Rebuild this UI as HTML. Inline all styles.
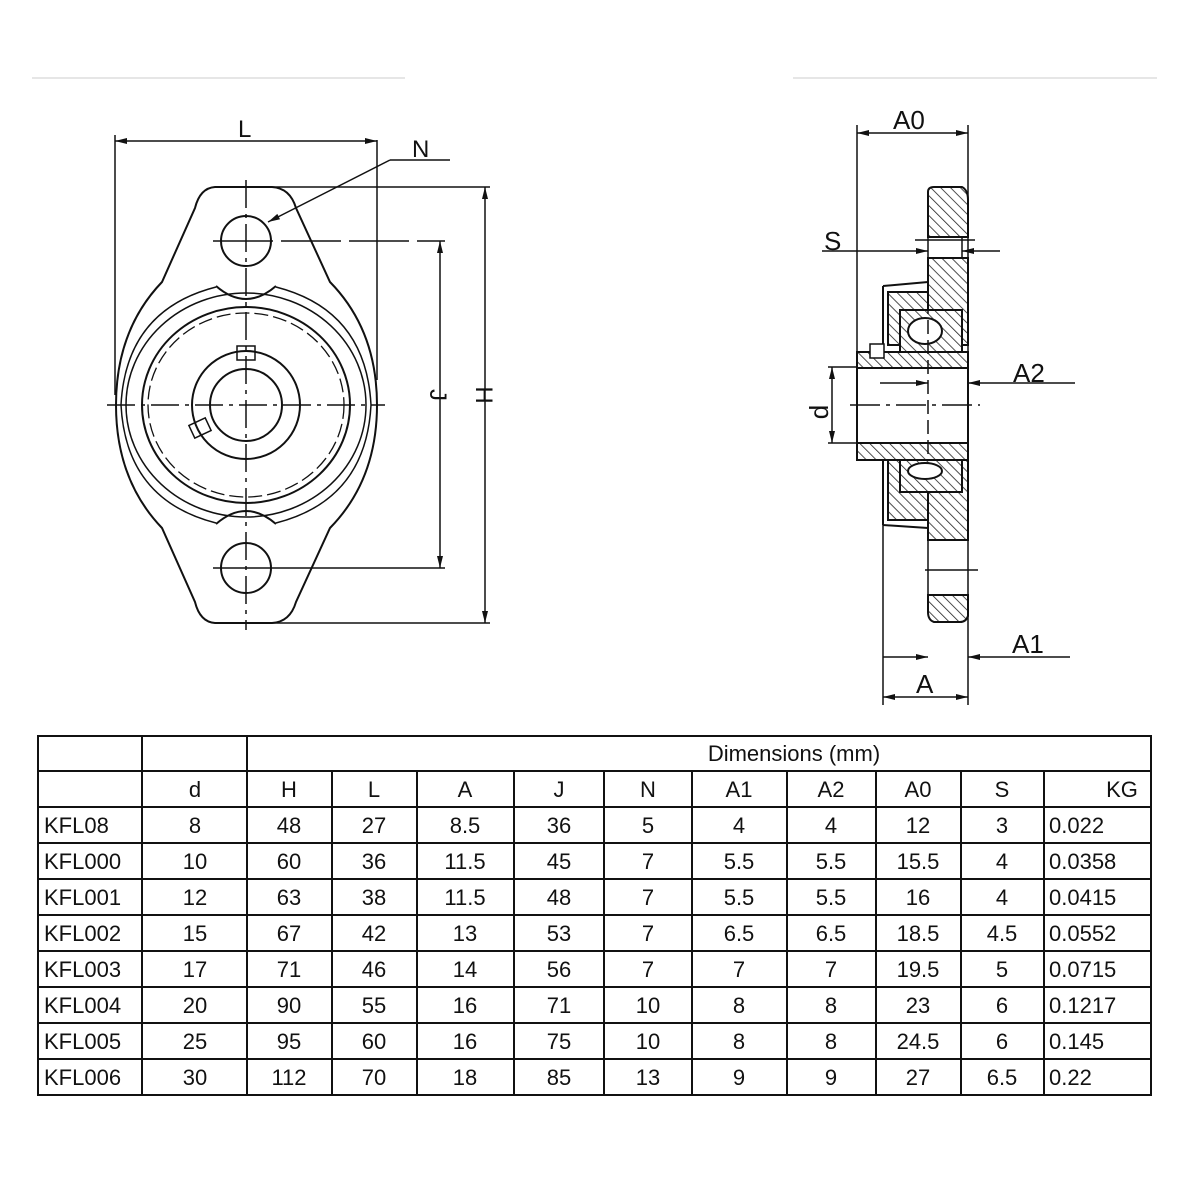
<!DOCTYPE html>
<html><head><meta charset="utf-8"><style>
html,body{margin:0;padding:0;background:#fff;}
svg{display:block;}
text{font-family:"Liberation Sans",sans-serif;fill:#111;}
</style></head><body>
<svg width="1200" height="1200" viewBox="0 0 1200 1200" xmlns="http://www.w3.org/2000/svg">
<defs>
<pattern id="h" width="7" height="7" patternUnits="userSpaceOnUse" patternTransform="rotate(-45)">
<rect width="7" height="7" fill="#fff"/><line x1="0" y1="0" x2="0" y2="7" stroke="#222" stroke-width="1.6"/></pattern>
<marker id="a" markerWidth="12" markerHeight="8" refX="12" refY="4" orient="auto-start-reverse" markerUnits="userSpaceOnUse"><path d="M0,1 L12,4 L0,7 Z" fill="#111"/></marker>
</defs>
<line x1="32" y1="78" x2="405" y2="78" stroke="#ddd" stroke-width="1.5"/>
<line x1="793" y1="78" x2="1157" y2="78" stroke="#ddd" stroke-width="1.5"/>

<g stroke="#111" stroke-width="2" fill="none">
<!-- front view -->
<path d="M215,187 L272,187 Q290,188 296,208 L330,282 Q377,330 377,405 Q377,480 330,528 L296,602 Q290,622 272,623 L215,623 Q200,622 195,602 L162,528 Q116,480 116,405 Q116,330 162,282 L195,208 Q200,188 215,187 Z"/>
<path d="M216,286 Q246,312 276,286"/>
<path d="M216,524 Q246,498 276,524"/>
<path d="M216,287 Q126,310 121,405 Q126,500 216,523" stroke-width="1.5"/>
<path d="M276,287 Q366,310 371,405 Q366,500 276,523" stroke-width="1.5"/>
<ellipse cx="246" cy="405" rx="120" ry="112" stroke-width="1.5"/>
<ellipse cx="246" cy="405" rx="104" ry="98"/>
<ellipse cx="246" cy="405" rx="98" ry="92" stroke-dasharray="14 5" stroke-width="1.3"/>
<circle cx="246" cy="405" r="54"/>
<circle cx="246" cy="405" r="36"/>
<rect x="237" y="346" width="18" height="14" stroke-width="1.5"/>
<rect x="191" y="421" width="18" height="14" transform="rotate(-25 200 428)" stroke-width="1.5"/>
<circle cx="246" cy="241" r="25"/>
<circle cx="246" cy="568" r="25"/>
<g stroke-width="1.5" stroke-dasharray="28 6 4 6">
<line x1="246" y1="180" x2="246" y2="630"/>
<line x1="107" y1="405" x2="385" y2="405"/>
</g>
<line x1="213" y1="241" x2="445" y2="241" stroke-width="1.5" stroke-dasharray="60 8"/>
<line x1="213" y1="568" x2="445" y2="568" stroke-width="1.5"/>
<line x1="272" y1="187" x2="490" y2="187" stroke-width="1.5"/>
<line x1="272" y1="623" x2="490" y2="623" stroke-width="1.5"/>
<line x1="115" y1="135" x2="115" y2="395" stroke-width="1.5"/>
<line x1="377" y1="140" x2="377" y2="380" stroke-width="1.5"/>
<line x1="115" y1="141" x2="377" y2="141" stroke-width="1.5" marker-start="url(#a)" marker-end="url(#a)"/>
<line x1="440" y1="241" x2="440" y2="568" stroke-width="1.5" marker-start="url(#a)" marker-end="url(#a)"/>
<line x1="485" y1="187" x2="485" y2="623" stroke-width="1.5" marker-start="url(#a)" marker-end="url(#a)"/>
<line x1="450" y1="160" x2="390" y2="160" stroke-width="1.5"/>
<line x1="390" y1="160" x2="268" y2="222" stroke-width="1.5" marker-end="url(#a)"/>
</g>
<text x="238" y="137" font-size="24">L</text>
<text x="412" y="157" font-size="24">N</text>
<text x="420" y="405" font-size="24" transform="rotate(90 430 405)" text-anchor="middle">J</text>
<text x="466" y="405" font-size="24" transform="rotate(90 476 405)" text-anchor="middle">H</text>

<!-- side view -->
<g stroke="#111" stroke-width="2">
<path d="M928,192 Q928,187 934,187 L962,187 Q968,190 968,200 L968,237 L928,237 Z" fill="url(#h)"/>
<path d="M928,258 L968,258 L968,345 L928,345 Z" fill="url(#h)"/>
<path d="M888,292 L928,292 L928,345 L888,345 Z" fill="url(#h)"/>
<path d="M883,286 L928,282" fill="none"/>
<path d="M883,286 L883,525 M883,525 L928,528" fill="none"/>
<path d="M928,460 L968,460 L968,540 L928,540 Z" fill="url(#h)"/>
<path d="M888,460 L928,460 L928,520 L888,520 Z" fill="url(#h)"/>
<path d="M928,595 L968,595 L968,616 Q966,622 960,622 L934,622 Q928,620 928,612 Z" fill="url(#h)"/>
<rect x="900" y="310" width="62" height="42" fill="url(#h)"/>
<rect x="900" y="460" width="62" height="32" fill="url(#h)"/>
<ellipse cx="925" cy="331" rx="17" ry="13" fill="#fff"/>
<ellipse cx="925" cy="471" rx="17" ry="8" fill="#fff"/>
<rect x="857" y="352" width="111" height="16" fill="url(#h)"/>
<rect x="857" y="443" width="111" height="17" fill="url(#h)"/>
<rect x="857" y="368" width="111" height="75" fill="#fff"/>
<rect x="870" y="344" width="14" height="14" fill="#fff" stroke-width="1.5"/>
</g>
<g stroke="#111" stroke-width="1.5" fill="none">
<line x1="857" y1="125" x2="857" y2="352"/>
<line x1="968" y1="125" x2="968" y2="705"/>
<line x1="883" y1="525" x2="883" y2="705"/>
<line x1="928" y1="237" x2="928" y2="258"/>
<line x1="962" y1="237" x2="962" y2="258"/>
<line x1="928" y1="540" x2="928" y2="595"/>
<line x1="857" y1="133" x2="968" y2="133" marker-start="url(#a)" marker-end="url(#a)"/>
<line x1="883" y1="697" x2="968" y2="697" marker-start="url(#a)" marker-end="url(#a)"/>
<line x1="822" y1="251" x2="928" y2="251" marker-end="url(#a)"/>
<line x1="1000" y1="251" x2="962" y2="251" marker-end="url(#a)"/>
<line x1="915" y1="240" x2="975" y2="240"/>
<line x1="880" y1="383" x2="928" y2="383" marker-end="url(#a)"/>
<line x1="1075" y1="383" x2="968" y2="383" marker-end="url(#a)"/>
<line x1="883" y1="657" x2="928" y2="657" marker-end="url(#a)"/>
<line x1="1070" y1="657" x2="968" y2="657" marker-end="url(#a)"/>
<line x1="832" y1="367" x2="832" y2="443" marker-start="url(#a)" marker-end="url(#a)"/>
<line x1="828" y1="367" x2="857" y2="367"/>
<line x1="828" y1="443" x2="857" y2="443"/>
<line x1="850" y1="405" x2="980" y2="405" stroke-dasharray="30 6 4 6"/>
<line x1="928" y1="300" x2="928" y2="460" stroke-dasharray="14 6"/>
<line x1="925" y1="570" x2="978" y2="570"/>
</g>
<text x="893" y="129" font-size="26">A0</text>
<text x="824" y="250" font-size="26">S</text>
<text x="1013" y="382" font-size="26">A2</text>
<text x="1012" y="653" font-size="26">A1</text>
<text x="916" y="693" font-size="26">A</text>
<text x="820" y="404" font-size="26" transform="rotate(-90 828 404)" text-anchor="middle">d</text>

<!-- table -->
<g stroke="#111" stroke-width="2">
<rect x="38" y="736" width="1113" height="359" fill="none"/>
<line x1="38" y1="771" x2="1151" y2="771"/>
<line x1="38" y1="807" x2="1151" y2="807"/>
<line x1="38" y1="843" x2="1151" y2="843"/>
<line x1="38" y1="879" x2="1151" y2="879"/>
<line x1="38" y1="915" x2="1151" y2="915"/>
<line x1="38" y1="951" x2="1151" y2="951"/>
<line x1="38" y1="987" x2="1151" y2="987"/>
<line x1="38" y1="1023" x2="1151" y2="1023"/>
<line x1="38" y1="1059" x2="1151" y2="1059"/>
<line x1="142" y1="736" x2="142" y2="1095"/>
<line x1="247" y1="736" x2="247" y2="1095"/>
<line x1="332" y1="771" x2="332" y2="1095"/>
<line x1="417" y1="771" x2="417" y2="1095"/>
<line x1="514" y1="771" x2="514" y2="1095"/>
<line x1="604" y1="771" x2="604" y2="1095"/>
<line x1="692" y1="771" x2="692" y2="1095"/>
<line x1="787" y1="771" x2="787" y2="1095"/>
<line x1="876" y1="771" x2="876" y2="1095"/>
<line x1="961" y1="771" x2="961" y2="1095"/>
<line x1="1044" y1="771" x2="1044" y2="1095"/>
</g>
<g font-size="22">
<text x="794" y="761" text-anchor="middle">Dimensions  (mm)</text>
<g text-anchor="middle">
<text x="195" y="797">d</text><text x="289" y="797">H</text><text x="374" y="797">L</text><text x="465" y="797">A</text><text x="559" y="797">J</text><text x="648" y="797">N</text><text x="739" y="797">A1</text><text x="831" y="797">A2</text><text x="918" y="797">A0</text><text x="1002" y="797">S</text><text x="1122" y="797">KG</text>
</g>
<g id="rows">
<text x="44" y="833">KFL08</text><text x="44" y="869">KFL000</text><text x="44" y="905">KFL001</text><text x="44" y="941">KFL002</text><text x="44" y="977">KFL003</text><text x="44" y="1013">KFL004</text><text x="44" y="1049">KFL005</text><text x="44" y="1085">KFL006</text>
<text x="1049" y="833">0.022</text><text x="1049" y="869">0.0358</text><text x="1049" y="905">0.0415</text><text x="1049" y="941">0.0552</text><text x="1049" y="977">0.0715</text><text x="1049" y="1013">0.1217</text><text x="1049" y="1049">0.145</text><text x="1049" y="1085">0.22</text>
</g>
<g text-anchor="middle">
<text x="195" y="833">8</text><text x="289" y="833">48</text><text x="374" y="833">27</text><text x="465" y="833">8.5</text><text x="559" y="833">36</text><text x="648" y="833">5</text><text x="739" y="833">4</text><text x="831" y="833">4</text><text x="918" y="833">12</text><text x="1002" y="833">3</text>
<text x="195" y="869">10</text><text x="289" y="869">60</text><text x="374" y="869">36</text><text x="465" y="869">11.5</text><text x="559" y="869">45</text><text x="648" y="869">7</text><text x="739" y="869">5.5</text><text x="831" y="869">5.5</text><text x="918" y="869">15.5</text><text x="1002" y="869">4</text>
<text x="195" y="905">12</text><text x="289" y="905">63</text><text x="374" y="905">38</text><text x="465" y="905">11.5</text><text x="559" y="905">48</text><text x="648" y="905">7</text><text x="739" y="905">5.5</text><text x="831" y="905">5.5</text><text x="918" y="905">16</text><text x="1002" y="905">4</text>
<text x="195" y="941">15</text><text x="289" y="941">67</text><text x="374" y="941">42</text><text x="465" y="941">13</text><text x="559" y="941">53</text><text x="648" y="941">7</text><text x="739" y="941">6.5</text><text x="831" y="941">6.5</text><text x="918" y="941">18.5</text><text x="1002" y="941">4.5</text>
<text x="195" y="977">17</text><text x="289" y="977">71</text><text x="374" y="977">46</text><text x="465" y="977">14</text><text x="559" y="977">56</text><text x="648" y="977">7</text><text x="739" y="977">7</text><text x="831" y="977">7</text><text x="918" y="977">19.5</text><text x="1002" y="977">5</text>
<text x="195" y="1013">20</text><text x="289" y="1013">90</text><text x="374" y="1013">55</text><text x="465" y="1013">16</text><text x="559" y="1013">71</text><text x="648" y="1013">10</text><text x="739" y="1013">8</text><text x="831" y="1013">8</text><text x="918" y="1013">23</text><text x="1002" y="1013">6</text>
<text x="195" y="1049">25</text><text x="289" y="1049">95</text><text x="374" y="1049">60</text><text x="465" y="1049">16</text><text x="559" y="1049">75</text><text x="648" y="1049">10</text><text x="739" y="1049">8</text><text x="831" y="1049">8</text><text x="918" y="1049">24.5</text><text x="1002" y="1049">6</text>
<text x="195" y="1085">30</text><text x="289" y="1085">112</text><text x="374" y="1085">70</text><text x="465" y="1085">18</text><text x="559" y="1085">85</text><text x="648" y="1085">13</text><text x="739" y="1085">9</text><text x="831" y="1085">9</text><text x="918" y="1085">27</text><text x="1002" y="1085">6.5</text>
</g>
</g>
</svg>
</body></html>
